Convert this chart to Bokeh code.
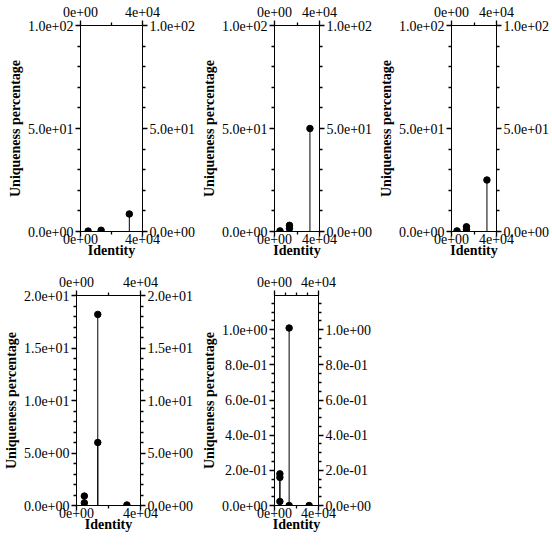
from bokeh.plotting import figure
from bokeh.models import Range1d, LinearAxis, FixedTicker
from bokeh.layouts import row, column
from bokeh.embed import file_html
from bokeh.resources import INLINE

FONT = "Liberation Serif"

# ---------------- data ----------------
p1_identity = [4900, 13300, 31500]
p1_uniqueness = [0.2, 0.6, 8.5]

p2_identity = [4900, 13300, 13300, 31500]
p2_uniqueness = [0.3, 1.5, 3.0, 50.0]

p3_identity = [4900, 13300, 13300, 31500]
p3_uniqueness = [0.3, 0.9, 2.3, 25.0]

p4_identity = [4900, 4900, 13300, 13300, 31500]
p4_uniqueness = [0.25, 0.9, 6.0, 18.2, 0.05]

p5_identity = [4900, 4900, 4900, 13300, 13300, 31500]
p5_uniqueness = [0.023, 0.16, 0.18, 0.0, 1.01, 0.0]

x_label = "Identity"
y_label = "Uniqueness percentage"

x_ticks = [0, 40000]
x_tick_labels = ["0e+00", "4e+04"]
x_minor_ticks = [20000]
x_minor_ticks_p5_top = [10000, 20000, 30000]

y100_ticks = [0, 50, 100]
y100_labels = ["0.0e+00", "5.0e+01", "1.0e+02"]
y100_minor = [10, 20, 30, 40, 60, 70, 80, 90]

y20_ticks = [0, 5, 10, 15, 20]
y20_labels = ["0.0e+00", "5.0e+00", "1.0e+01", "1.5e+01", "2.0e+01"]
y20_minor = [1, 2, 3, 4, 6, 7, 8, 9, 11, 12, 13, 14, 16, 17, 18, 19]

y1_ticks = [0, 0.2, 0.4, 0.6, 0.8, 1.0]
y1_labels = ["0.0e+00", "2.0e-01", "4.0e-01", "6.0e-01", "8.0e-01", "1.0e+00"]
y1_minor = [0.05, 0.1, 0.15, 0.25, 0.3, 0.35, 0.45, 0.5, 0.55, 0.65, 0.7, 0.75,
            0.85, 0.9, 0.95, 1.05, 1.1, 1.15]
y1_max = 1.195


def style_axis(ax, standoff):
    ax.axis_line_color = "black"
    ax.axis_line_width = 1
    ax.major_tick_line_color = "black"
    ax.minor_tick_line_color = "black"
    ax.major_tick_line_width = 1.3
    ax.minor_tick_line_width = 1.3
    ax.major_tick_out = 5
    ax.major_tick_in = 0
    ax.minor_tick_out = 3
    ax.minor_tick_in = 0
    ax.major_label_text_font = FONT
    ax.major_label_text_font_size = "14px"
    ax.major_label_text_color = "black"
    ax.major_label_standoff = standoff
    ax.axis_label_text_font = FONT
    ax.axis_label_text_font_size = "14px"
    ax.axis_label_text_font_style = "bold"
    ax.axis_label_text_color = "black"


def panel(xs, ys, ymax, yt, yl, ym, w, h, bl, br, bt, bb, top_minor=x_minor_ticks):
    p = figure(width=w, height=h, x_range=Range1d(0, 40000), y_range=Range1d(0, ymax),
               output_backend="svg", toolbar_location=None,
               x_axis_location=None, y_axis_location=None,
               min_border_left=bl, min_border_right=br,
               min_border_top=bt, min_border_bottom=bb)
    p.xgrid.visible = False
    p.ygrid.visible = False
    p.outline_line_color = "black"
    p.background_fill_color = "white"
    p.border_fill_color = "white"

    xlab = {t: l for t, l in zip(x_ticks, x_tick_labels)}
    ylab = {t: l for t, l in zip(yt, yl)}

    below = LinearAxis(ticker=FixedTicker(ticks=x_ticks, minor_ticks=x_minor_ticks),
                       major_label_overrides=xlab, axis_label=x_label)
    style_axis(below, -3)
    below.axis_label_standoff = -4
    above = LinearAxis(ticker=FixedTicker(ticks=x_ticks, minor_ticks=top_minor),
                       major_label_overrides=xlab)
    style_axis(above, 4)
    left = LinearAxis(ticker=FixedTicker(ticks=yt, minor_ticks=ym),
                      major_label_overrides=ylab, axis_label=y_label)
    style_axis(left, 2)
    left.axis_label_standoff = 2
    right = LinearAxis(ticker=FixedTicker(ticks=yt, minor_ticks=ym),
                       major_label_overrides=ylab)
    style_axis(right, 2)

    p.add_layout(below, "below")
    p.add_layout(above, "above")
    p.add_layout(left, "left")
    p.add_layout(right, "right")

    p.segment(x0=xs, y0=[0] * len(xs), x1=xs, y1=ys, line_color="black", line_width=1)
    p.scatter(x=xs, y=ys, size=6.5, color="black")
    return p


p1 = panel(p1_identity, p1_uniqueness, 100, y100_ticks, y100_labels, y100_minor,
           198, 264, 80, 53, 23, 33)
p2 = panel(p2_identity, p2_uniqueness, 100, y100_ticks, y100_labels, y100_minor,
           177, 264, 68, 56, 25, 29)
p3 = panel(p3_identity, p3_uniqueness, 100, y100_ticks, y100_labels, y100_minor,
           177, 264, 71, 52, 25, 31)
p4 = panel(p4_identity, p4_uniqueness, 20, y20_ticks, y20_labels, y20_minor,
           198, 276, 76, 58, 30, 33)
p5 = panel(p5_identity, p5_uniqueness, y1_max, y1_ticks, y1_labels, y1_minor,
           176, 276, 69, 54, 31, 35, top_minor=x_minor_ticks_p5_top)

layout = column(row(p1, p2, p3), row(p4, p5))

open("out.html", "w").write(file_html(layout, INLINE))
